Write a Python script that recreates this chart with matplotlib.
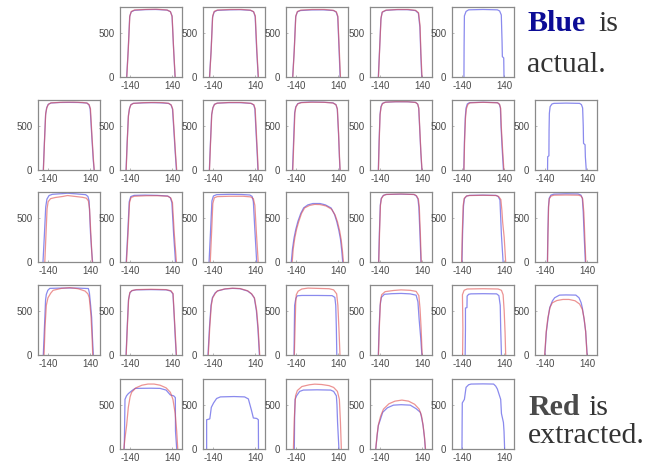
import matplotlib
matplotlib.use("Agg")
import matplotlib.pyplot as plt

plt.rcParams["axes.unicode_minus"] = False

# profile curves, one list of (x, y) vertices per panel, read row by row
row1_blue = [
    [(-161, 0), (-151, 300), (-141, 680), (-131, 735), (-110, 752), (-40, 760), (30, 762), (105, 755), (128, 738), (139, 690), (149, 330), (159, 0)],
    [(-162, 0), (-152, 280), (-142, 670), (-132, 733), (-112, 752), (-30, 758), (40, 760), (110, 752), (130, 735), (140, 680), (150, 300), (160, 0)],
    [(-161, 0), (-151, 290), (-141, 680), (-130, 735), (-110, 750), (-40, 757), (40, 758), (110, 750), (127, 732), (137, 680), (146, 300), (153, 0)],
    [(-150, 0), (-142, 300), (-133, 650), (-125, 730), (-100, 752), (-30, 760), (40, 760), (95, 750), (115, 720), (125, 560), (131, 250), (137, 0)],
    [(-126, 0), (-125, 350), (-123, 690), (-112, 740), (-95, 758), (0, 762), (95, 758), (110, 745), (121, 700), (126, 400), (128, 230), (137, 215), (139, 0)],
]
row1_red = [
    [(-160, 0), (-150, 320), (-140, 690), (-130, 740), (-108, 757), (-30, 763), (40, 765), (108, 756), (129, 736), (140, 680), (150, 300), (160, 0)],
    [(-161, 0), (-151, 300), (-141, 690), (-130, 742), (-108, 756), (-20, 762), (50, 762), (108, 755), (129, 738), (141, 690), (151, 310), (161, 0)],
    [(-160, 0), (-150, 310), (-140, 690), (-129, 740), (-107, 755), (-30, 762), (50, 762), (107, 753), (128, 735), (138, 685), (147, 320), (155, 0)],
    [(-149, 0), (-141, 320), (-132, 670), (-123, 735), (-98, 755), (-20, 762), (50, 762), (97, 752), (116, 725), (126, 580), (132, 260), (139, 0)],
    None,
]

row2_blue = [
    [(-170, 0), (-163, 300), (-155, 620), (-148, 700), (-138, 740), (-120, 756), (-60, 762), (0, 763), (60, 762), (118, 756), (132, 735), (140, 690), (150, 400), (160, 120), (166, 0)],
    [(-165, 0), (-158, 300), (-150, 600), (-143, 690), (-134, 735), (-118, 752), (-60, 757), (0, 760), (60, 758), (115, 752), (132, 735), (142, 690), (151, 450), (160, 200), (168, 0)],
    [(-163, 0), (-156, 300), (-148, 620), (-140, 700), (-130, 740), (-112, 754), (-40, 760), (40, 760), (112, 752), (130, 735), (138, 690), (146, 420), (154, 160), (158, 0)],
    [(-162, 0), (-155, 320), (-148, 640), (-141, 710), (-128, 748), (-105, 762), (-40, 768), (40, 765), (105, 758), (125, 738), (134, 690), (142, 420), (148, 150), (152, 0)],
    [(-150, 0), (-145, 320), (-139, 620), (-133, 710), (-124, 750), (-105, 765), (-40, 770), (40, 770), (95, 764), (110, 745), (117, 700), (124, 450), (131, 200), (138, 0)],
    [(-127, 0), (-123, 320), (-117, 600), (-112, 700), (-104, 745), (-90, 760), (0, 765), (95, 760), (108, 742), (115, 700), (119, 500), (126, 260), (135, 0)],
    [(-122, 0), (-121, 150), (-113, 160), (-112, 450), (-110, 640), (-105, 715), (-93, 745), (-80, 752), (0, 755), (90, 752), (102, 738), (110, 700), (114, 500), (116, 300), (126, 285), (128, 150), (134, 0)],
]
row2_red = [
    [(-169, 0), (-162, 320), (-154, 640), (-146, 705), (-136, 742), (-118, 758), (-40, 765), (30, 766), (90, 762), (120, 755), (134, 735), (142, 690), (152, 380), (162, 110), (167, 0)],
    [(-164, 0), (-157, 320), (-149, 620), (-141, 700), (-132, 738), (-116, 752), (-50, 760), (20, 762), (80, 760), (118, 752), (134, 733), (144, 685), (153, 440), (162, 190), (170, 0)],
    [(-162, 0), (-155, 310), (-147, 630), (-139, 705), (-128, 742), (-110, 755), (-30, 762), (50, 762), (114, 752), (132, 735), (140, 690), (148, 420), (156, 150), (160, 0)],
    [(-160, 0), (-153, 330), (-146, 650), (-139, 712), (-126, 748), (-104, 760), (-30, 765), (50, 764), (106, 756), (126, 735), (135, 688), (143, 410), (149, 140), (153, 0)],
    [(-149, 0), (-144, 330), (-138, 630), (-131, 715), (-121, 752), (-100, 766), (-30, 771), (50, 770), (97, 762), (111, 742), (118, 695), (125, 440), (132, 190), (139, 0)],
    [(-126, 0), (-122, 300), (-116, 580), (-110, 690), (-100, 740), (-85, 758), (0, 764), (98, 758), (110, 740), (117, 695), (121, 490), (129, 250), (138, 0)],
    None,
]

row3_blue = [
    [(-172, 0), (-163, 300), (-154, 620), (-146, 710), (-132, 750), (-110, 764), (-40, 772), (-10, 776), (40, 770), (110, 760), (125, 740), (133, 690), (142, 330), (150, 120), (156, 0)],
    [(-164, 0), (-154, 320), (-144, 680), (-134, 738), (-112, 752), (-40, 755), (40, 752), (110, 745), (128, 725), (138, 670), (150, 300), (162, 0)],
    [(-165, 0), (-156, 320), (-146, 690), (-136, 745), (-115, 760), (-30, 764), (50, 762), (105, 756), (120, 740), (128, 680), (136, 420), (144, 180), (150, 0)],
    [(-170, 0), (-162, 150), (-152, 270), (-140, 370), (-126, 460), (-107, 550), (-88, 612), (-60, 645), (-27, 660), (20, 660), (55, 645), (93, 610), (115, 540), (130, 460), (144, 360), (155, 260), (163, 140), (170, 0)],
    [(-148, 0), (-143, 330), (-137, 640), (-131, 715), (-118, 750), (-100, 762), (0, 766), (85, 762), (100, 748), (112, 712), (118, 620), (125, 330), (132, 0)],
    [(-139, 0), (-135, 320), (-129, 630), (-123, 715), (-108, 745), (-90, 752), (0, 755), (85, 752), (100, 740), (112, 700), (117, 500), (122, 300), (133, 0)],
    [(-123, 0), (-120, 320), (-116, 620), (-111, 720), (-100, 755), (-80, 766), (0, 770), (80, 768), (98, 756), (108, 720), (114, 560), (120, 300), (128, 0)],
]
row3_red = [
    [(-160, 0), (-153, 280), (-145, 600), (-138, 680), (-122, 715), (-90, 728), (-40, 740), (-10, 750), (30, 742), (90, 730), (115, 720), (128, 690), (136, 600), (145, 300), (154, 0)],
    [(-162, 0), (-152, 320), (-142, 670), (-132, 728), (-110, 742), (-30, 748), (50, 748), (112, 742), (131, 722), (142, 670), (154, 320), (168, 0)],
    [(-157, 0), (-149, 300), (-140, 660), (-130, 725), (-110, 738), (-30, 742), (60, 742), (110, 735), (128, 715), (138, 640), (148, 330), (160, 0)],
    [(-164, 0), (-157, 150), (-147, 270), (-135, 370), (-120, 460), (-102, 550), (-82, 610), (-50, 638), (-15, 650), (20, 648), (60, 632), (97, 595), (120, 530), (136, 450), (150, 350), (160, 250), (168, 130), (175, 0)],
    [(-147, 0), (-142, 320), (-136, 640), (-129, 718), (-115, 752), (-95, 763), (0, 768), (88, 762), (103, 746), (115, 710), (121, 620), (128, 320), (134, 0)],
    [(-141, 0), (-137, 330), (-131, 640), (-124, 718), (-110, 744), (-90, 750), (0, 753), (88, 750), (104, 738), (118, 705), (125, 580), (130, 450), (140, 280), (150, 0)],
    [(-122, 0), (-119, 330), (-115, 630), (-110, 715), (-98, 745), (-78, 754), (0, 756), (82, 754), (100, 745), (110, 715), (118, 560), (124, 300), (131, 0)],
]

row4_blue = [
    [(-170, 0), (-162, 330), (-155, 620), (-150, 684), (-140, 730), (-127, 752), (-60, 755), (0, 756), (60, 755), (128, 750), (135, 700), (143, 560), (150, 420), (155, 200), (161, 0)],
    [(-165, 0), (-157, 330), (-149, 620), (-140, 700), (-127, 725), (-100, 735), (0, 738), (100, 735), (130, 722), (145, 690), (153, 450), (160, 200), (167, 0)],
    [(-172, 0), (-162, 320), (-152, 560), (-143, 646), (-125, 700), (-110, 722), (-60, 745), (-10, 752), (40, 748), (90, 722), (115, 690), (134, 646), (148, 500), (158, 300), (168, 0)],
    [(-152, 0), (-150, 300), (-148, 560), (-140, 640), (-130, 668), (-100, 672), (0, 672), (100, 670), (118, 650), (124, 560), (128, 300), (131, 0)],
    [(-150, 0), (-145, 300), (-138, 560), (-130, 650), (-110, 685), (-60, 692), (0, 695), (60, 690), (100, 675), (112, 600), (120, 400), (130, 200), (138, 0)],
    [(-118, 0), (-116, 300), (-116, 530), (-106, 535), (-105, 665), (-95, 685), (-80, 690), (0, 692), (90, 690), (105, 670), (114, 560), (117, 300), (122, 0)],
    [(-140, 0), (-130, 260), (-118, 420), (-108, 532), (-90, 610), (-75, 646), (-43, 676), (0, 678), (65, 676), (86, 646), (100, 590), (108, 532), (120, 400), (130, 266), (140, 0)],
]
row4_red = [
    [(-165, 0), (-158, 330), (-150, 560), (-139, 646), (-120, 700), (-105, 730), (-50, 752), (6, 760), (60, 748), (106, 722), (125, 690), (134, 646), (145, 450), (152, 220), (157, 0)],
    [(-164, 0), (-156, 330), (-148, 630), (-139, 708), (-125, 728), (-95, 738), (0, 742), (100, 738), (132, 725), (146, 692), (154, 440), (162, 200), (168, 0)],
    [(-170, 0), (-160, 320), (-150, 560), (-141, 646), (-122, 700), (-108, 725), (-60, 746), (-10, 754), (40, 750), (90, 725), (117, 690), (136, 640), (150, 500), (160, 300), (170, 0)],
    [(-150, 0), (-145, 300), (-141, 580), (-137, 680), (-125, 720), (-100, 745), (-60, 755), (0, 752), (80, 748), (110, 735), (130, 690), (138, 560), (145, 300), (152, 0)],
    [(-149, 0), (-143, 320), (-136, 600), (-128, 680), (-105, 715), (-50, 728), (0, 735), (60, 730), (100, 718), (118, 670), (126, 520), (133, 300), (140, 0)],
    [(-135, 0), (-133, 300), (-135, 560), (-136, 680), (-125, 730), (-105, 745), (0, 748), (100, 745), (122, 730), (133, 680), (140, 500), (146, 250), (150, 0)],
    [(-141, 0), (-131, 260), (-120, 420), (-105, 540), (-90, 590), (-60, 615), (-20, 627), (20, 627), (60, 612), (90, 575), (108, 515), (120, 410), (130, 266), (139, 0)],
]

row5_blue = [
    [(-177, 0), (-175, 200), (-172, 560), (-162, 600), (-150, 625), (-125, 660), (-105, 684), (0, 686), (60, 684), (100, 665), (128, 610), (150, 600), (161, 580), (162, 200), (170, 0)],
    [(-181, 0), (-181, 330), (-160, 340), (-150, 470), (-135, 520), (-115, 570), (-90, 588), (0, 592), (70, 588), (95, 565), (115, 440), (128, 350), (150, 345), (161, 330), (162, 0)],
    [(-150, 0), (-148, 350), (-145, 560), (-135, 600), (-115, 650), (-90, 665), (0, 668), (90, 665), (110, 650), (128, 600), (132, 500), (136, 300), (145, 0)],
    [(-167, 0), (-158, 150), (-150, 263), (-135, 340), (-121, 414), (-90, 465), (-50, 495), (0, 500), (61, 495), (100, 455), (128, 414), (138, 340), (146, 263), (155, 130), (161, 0)],
    [(-139, 0), (-138, 300), (-137, 520), (-123, 560), (-115, 660), (-112, 696), (-95, 725), (-79, 733), (0, 735), (70, 733), (84, 710), (95, 677), (117, 560), (122, 400), (135, 300), (139, 200), (143, 0)],
]
row5_red = [
    [(-180, 0), (-170, 150), (-161, 270), (-150, 470), (-138, 590), (-128, 640), (-100, 690), (-60, 720), (-20, 733), (20, 733), (60, 720), (100, 690), (128, 640), (145, 560), (160, 400), (170, 200), (177, 0)],
    None,
    [(-156, 0), (-150, 350), (-142, 600), (-130, 660), (-100, 705), (-50, 725), (-15, 732), (30, 728), (80, 715), (110, 695), (135, 650), (148, 560), (155, 300), (161, 0)],
    [(-167, 0), (-158, 160), (-150, 270), (-135, 370), (-116, 450), (-80, 510), (-40, 540), (6, 552), (50, 540), (90, 505), (120, 450), (135, 380), (146, 270), (155, 140), (162, 0)],
    None,
]

x_ticks = [-140, 140]
y_ticks = [0, 500]

rows = [
    (row1_blue, row1_red, [1, 2, 3, 4, 5]),
    (row2_blue, row2_red, [0, 1, 2, 3, 4, 5, 6]),
    (row3_blue, row3_red, [0, 1, 2, 3, 4, 5, 6]),
    (row4_blue, row4_red, [0, 1, 2, 3, 4, 5, 6]),
    (row5_blue, row5_red, [1, 2, 3, 4, 5]),
]

W, H = 653, 470
fig = plt.figure(figsize=(W / 100, H / 100), dpi=100)

col_left = [38, 120, 203, 286, 370, 452, 535]
row_top = [7, 100, 192, 285, 379]
pw, ph = 62, 70

for r, (blues, reds, cols) in enumerate(rows):
    for k, c in enumerate(cols):
        ax = fig.add_axes([col_left[c] / W, 1 - (row_top[r] + ph) / H, pw / W, ph / H])
        b = blues[k]
        ax.plot([p[0] for p in b], [p[1] for p in b], color="#5858e6", lw=0.9, alpha=0.7)
        rd = reds[k]
        if rd is not None:
            ax.plot([p[0] for p in rd], [p[1] for p in rd], color="#e04c4c", lw=0.9, alpha=0.6)
        ax.set_xlim(-205, 205)
        ax.set_ylim(0, 790)
        ax.set_xticks(x_ticks)
        ax.set_yticks(y_ticks)
        ax.tick_params(axis="both", length=1.5, width=0.5, direction="in", colors="#9a9a9a",
                       labelcolor="#4a4a4a", labelsize=7)
        ax.tick_params(axis="x", pad=3)
        ax.tick_params(axis="y", pad=4)
        for lab in ax.get_xticklabels() + ax.get_yticklabels():
            lab.set_fontfamily("Liberation Sans")
        for s in ax.spines.values():
            s.set_color("#8a8a8a")
            s.set_linewidth(0.9)

serif = "Liberation Serif"
fig.text(527 / W, 1 - 31 / H, "Blue", fontfamily=serif, fontsize=21.5, fontweight="bold",
         color="#0c0c96", va="baseline")
fig.text(598 / W, 1 - 31 / H, "is", fontfamily=serif, fontsize=21.5, color="#333333", va="baseline")
fig.text(527 / W, 1 - 72 / H, "actual.", fontfamily=serif, fontsize=21.5, color="#333333", va="baseline")
fig.text(528 / W, 1 - 415 / H, "Red", fontfamily=serif, fontsize=21.5, fontweight="bold",
         color="#4a4a4a", va="baseline")
fig.text(588 / W, 1 - 415 / H, "is", fontfamily=serif, fontsize=21.5, color="#333333", va="baseline")
fig.text(528 / W, 1 - 443 / H, "extracted.", fontfamily=serif, fontsize=21.5, color="#333333", va="baseline")

fig.savefig("out.png", dpi=100)
